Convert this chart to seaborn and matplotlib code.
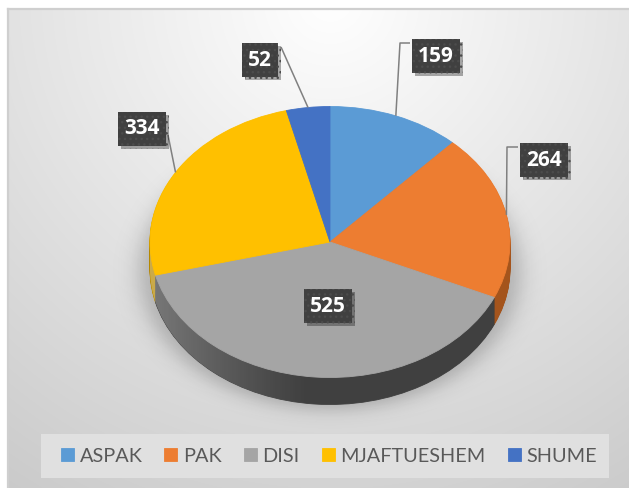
import numpy as np
import matplotlib
matplotlib.use("Agg")
import matplotlib.pyplot as plt
import matplotlib.patheffects as pe
from matplotlib.path import Path
from matplotlib.patches import PathPatch, Rectangle
import seaborn as sns

# data
categories = ["ASPAK", "PAK", "DISI", "MJAFTUESHEM", "SHUME"]
counts = [159, 264, 525, 334, 52]
top_colors = ["#5B9BD5", "#ED7D31", "#A5A5A5", "#FFC000", "#4472C4"]
side_colors = ["#3a6e9e", "#a4541c", "#404040", "#b58800", "#2f4f8c"]

sns.set_theme(style="white")
plt.rcParams["font.family"] = ["Lato", "DejaVu Sans"]
palette = sns.color_palette(top_colors)

W, H = 629, 488
fig = plt.figure(figsize=(W / 100, H / 100), dpi=100)
fig.patch.set_facecolor("white")

# hintergrund mit radialem verlauf
bg = fig.add_axes([8 / W, 0, (W - 8) / W, (H - 9) / H])
yy, xx = np.mgrid[0:H - 9, 0:W - 8]
rr = np.hypot(xx - 322, yy + 10)
val = np.clip(255 - 0.09 * rr, 196, 255) / 255
bg.imshow(np.dstack([val, val, val]), aspect="auto", interpolation="bilinear")
bg.set_xticks([])
bg.set_yticks([])
for side in ["right", "bottom"]:
    bg.spines[side].set_visible(False)
for side in ["left", "top"]:
    bg.spines[side].set_color("#cfcfcf")
    bg.spines[side].set_linewidth(1.6)

# pie axes, 1 unit = RX px horizontally, RY px vertically
RX, RY, CX, CY = 180, 135.5, 330, 242
ax = fig.add_axes([0, 0, 1, 1])
ax.set_facecolor("none")


def px(X, Y):
    return ((X - CX) / RX, (CY - Y) / RY)


depth = 27 / RY
x0, y1 = px(0, 0)
x1, y0 = px(W, H)

# soft shadow under the pie
gx = np.linspace(x0, x1, 400)
gy = np.linspace(y0, y1, 400)
GX, GY = np.meshgrid(gx, gy)
dist = np.hypot(GX / 1.06, (GY + depth + 0.02) / 1.02) - 1.0
sh = np.zeros(GX.shape + (4,))
sh[..., 3] = 0.22 / (1 + np.exp(dist / 0.035))
ax.imshow(sh, extent=(x0, x1, y0, y1), origin="lower", aspect="auto", zorder=0)

# side of the pie: stacked layers
for k in np.linspace(-depth, 0, 30)[:-1]:
    ws, _ = ax.pie(counts, colors=side_colors, startangle=90, counterclock=False,
                   center=(0, k), radius=1, wedgeprops=dict(linewidth=0.6))
    for w in ws:
        w.set_edgecolor(w.get_facecolor())
        w.set_zorder(1)

# lighter shading on the left of the side
t = np.linspace(np.pi, 2 * np.pi, 200)
verts = [(-1, 0)] + list(zip(np.cos(t), -depth + np.sin(t))) + [(1, 0), (-1, 0)]
codes = [Path.MOVETO] + [Path.LINETO] * (len(verts) - 2) + [Path.CLOSEPOLY]
clip = PathPatch(Path(verts, codes), transform=ax.transData, fc="none", ec="none")
ax.add_patch(clip)
grad = np.ones((2, 300, 4))
gxs = np.linspace(-1, 1, 300)
grad[..., 3] = 0.30 * np.clip((-gxs - 0.1) / 0.9, 0, 1) ** 1.2
im = ax.imshow(grad, extent=(-1, 1, -depth - 1, 0), origin="lower", aspect="auto", zorder=2)
im.set_clip_path(clip)

# top face
wedges, _ = ax.pie(counts, colors=palette, startangle=90, counterclock=False,
                   center=(0, 0), radius=1, wedgeprops=dict(linewidth=0.6))
for w in wedges:
    w.set_edgecolor(w.get_facecolor())
    w.set_zorder(3)

# data labels
label_pos = [px(436, 56), px(544, 160), px(328, 306), px(142, 129), px(260, 60)]
leader_ends = [[px(400, 43), px(410, 43)], [px(507, 147), px(518, 147)], None,
               [px(168, 135)], [px(281, 47)]]

total = sum(counts)
start = 0
for v, pos, ends in zip(counts, label_pos, leader_ends):
    mid = (start + v / 2) / total * 360
    start += v
    theta = np.deg2rad(90 - mid)
    if ends is not None:
        pts = [(np.cos(theta), np.sin(theta))] + ends
        ax.plot([p[0] for p in pts], [p[1] for p in pts], color="#808080", lw=1.1,
                zorder=5, solid_capstyle="butt")
    txt = ax.text(pos[0], pos[1], str(v), ha="center", va="center", color="white",
                  fontsize=15, fontweight="bold", family=["Open Sans", "DejaVu Sans"],
                  zorder=10,
                  bbox=dict(boxstyle="square,pad=0.3", fc="#404040", ec="#4c4c4c",
                            lw=0, hatch="..."))
    txt.get_bbox_patch().set_path_effects(
        [pe.SimplePatchShadow(offset=(2, -2), alpha=0.35), pe.Normal()])

ax.set_aspect("auto")
ax.set_xlim(x0, x1)
ax.set_ylim(y0, y1)
ax.axis("off")

# legend box
fig.patches.append(Rectangle((41 / W, 1 - 478 / H), 568 / W, 44 / H,
                             transform=fig.transFigure, fc="#e0e0e0", ec="none", zorder=1))
fig.legend(wedges, categories, loc="center", bbox_to_anchor=(329 / W, 1 - 456 / H),
           ncol=5, frameon=False, fontsize=14.3, handlelength=0.65, handleheight=0.65,
           handletextpad=0.3, columnspacing=1.1, labelcolor="#595959")

plt.savefig("out.png", dpi=100)
